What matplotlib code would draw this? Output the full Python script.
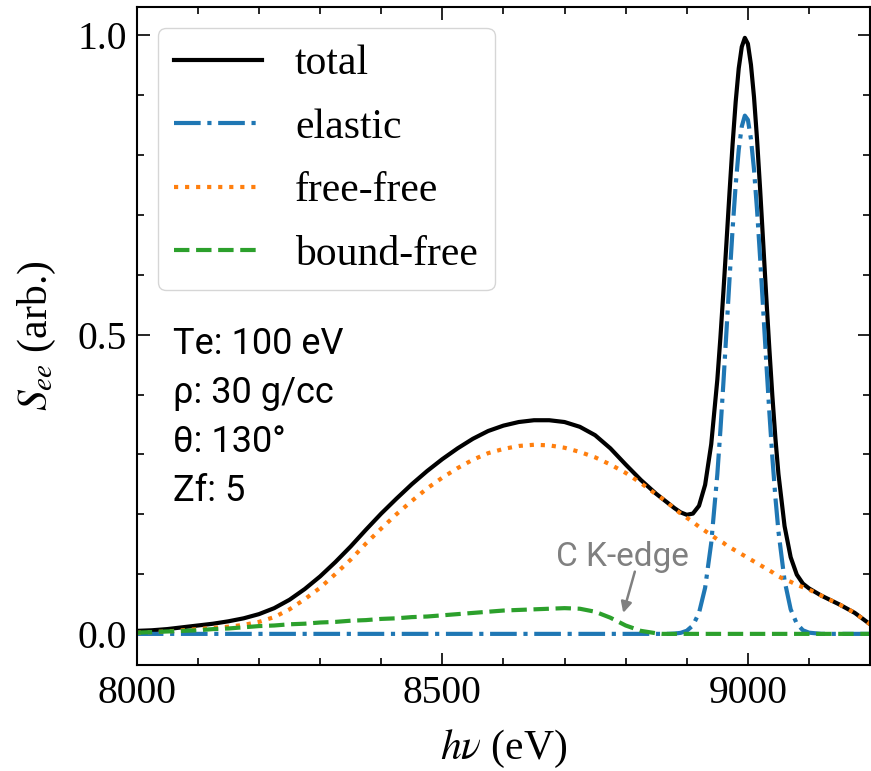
import matplotlib
matplotlib.use("Agg")
import matplotlib.pyplot as plt
from matplotlib.ticker import MultipleLocator, FormatStrFormatter

plt.rcParams['font.family'] = 'serif'
plt.rcParams['font.serif'] = ['Liberation Serif', 'DejaVu Serif']
plt.rcParams['mathtext.fontset'] = 'stix'

# photon energy grid (eV)
energy = [8000, 8025, 8050, 8075, 8100, 8125, 8150, 8175, 8200, 8225,
          8250, 8275, 8300, 8325, 8350, 8375, 8400, 8425, 8450, 8475,
          8500, 8525, 8550, 8575, 8600, 8625, 8650, 8675, 8700, 8725,
          8750, 8775, 8800, 8825, 8850, 8860, 8870, 8880, 8890, 8900,
          8910, 8920, 8930, 8940, 8950, 8955, 8960, 8965, 8970, 8975,
          8980, 8985, 8990, 8995, 9000, 9005, 9010, 9015, 9020, 9025,
          9030, 9035, 9040, 9045, 9050, 9060, 9070, 9080, 9090, 9100,
          9110, 9120, 9130, 9140, 9150, 9175, 9200]

total = [0.005, 0.006, 0.008, 0.011, 0.014, 0.017, 0.021, 0.026, 0.033, 0.043,
         0.057, 0.075, 0.096, 0.120, 0.146, 0.174, 0.201, 0.226, 0.250, 0.272,
         0.292, 0.310, 0.326, 0.339, 0.348, 0.354, 0.357, 0.357, 0.354, 0.346,
         0.332, 0.310, 0.283, 0.257, 0.234, 0.226, 0.218, 0.210, 0.203, 0.199,
         0.201, 0.214, 0.249, 0.317, 0.425, 0.495, 0.573, 0.655, 0.739, 0.819,
         0.889, 0.945, 0.981, 0.996, 0.986, 0.951, 0.897, 0.826, 0.743, 0.654,
         0.564, 0.478, 0.398, 0.327, 0.267, 0.180, 0.128, 0.099, 0.084, 0.076,
         0.070, 0.064, 0.059, 0.054, 0.049, 0.035, 0.016]

elastic = [0, 0, 0, 0, 0, 0, 0, 0, 0, 0,
           0, 0, 0, 0, 0, 0, 0, 0, 0, 0,
           0, 0, 0, 0, 0, 0, 0, 0, 0, 0,
           0, 0, 0, 0, 0, 0, 0, 0.0005, 0.0017, 0.0052,
           0.014, 0.035, 0.077, 0.152, 0.267, 0.340, 0.421, 0.507, 0.594, 0.677,
           0.750, 0.809, 0.848, 0.866, 0.859, 0.827, 0.776, 0.708, 0.628, 0.542,
           0.455, 0.372, 0.295, 0.228, 0.171, 0.089, 0.041, 0.017, 0.006, 0.002,
           0.001, 0, 0, 0, 0, 0, 0]

free_free = [0.002, 0.003, 0.004, 0.006, 0.008, 0.010, 0.012, 0.015, 0.020, 0.028,
             0.041, 0.058, 0.077, 0.100, 0.124, 0.151, 0.176, 0.200, 0.222, 0.243,
             0.261, 0.277, 0.291, 0.302, 0.309, 0.314, 0.316, 0.315, 0.311, 0.304,
             0.295, 0.283, 0.269, 0.252, 0.233, 0.226, 0.218, 0.209, 0.201, 0.194,
             0.187, 0.179, 0.172, 0.165, 0.158, 0.155, 0.152, 0.148, 0.145, 0.142,
             0.139, 0.136, 0.133, 0.130, 0.127, 0.124, 0.121, 0.118, 0.115, 0.112,
             0.109, 0.106, 0.103, 0.099, 0.096, 0.091, 0.087, 0.082, 0.078, 0.074,
             0.069, 0.064, 0.059, 0.054, 0.049, 0.035, 0.016]

bound_free = [0.002, 0.003, 0.004, 0.005, 0.006, 0.008, 0.009, 0.011, 0.013, 0.014,
              0.016, 0.017, 0.019, 0.020, 0.022, 0.023, 0.025, 0.026, 0.028, 0.029,
              0.031, 0.033, 0.035, 0.037, 0.039, 0.040, 0.041, 0.042, 0.043, 0.042,
              0.037, 0.027, 0.014, 0.005, 0.001, 0, 0, 0, 0, 0,
              0, 0, 0, 0, 0, 0, 0, 0, 0, 0,
              0, 0, 0, 0, 0, 0, 0, 0, 0, 0,
              0, 0, 0, 0, 0, 0, 0, 0, 0, 0,
              0, 0, 0, 0, 0, 0, 0]

params = ['Te: 100 eV', 'ρ: 30 g/cc', 'θ: 130°', 'Zf: 5']

fig = plt.figure(figsize=(8.71, 7.71), dpi=100)
ax = fig.add_axes([0.157, 0.1375, 0.842, 0.853])

lw = 3
ax.plot(energy, total, color='black', lw=lw, label='total')
ax.plot(energy, elastic, color='tab:blue', ls='-.', lw=lw, label='elastic')
ax.plot(energy, free_free, color='tab:orange', ls=':', lw=lw, label='free-free')
ax.plot(energy, bound_free, color='tab:green', ls='--', lw=lw, label='bound-free')

ax.set_xlim(8000, 9200)
ax.set_ylim(-0.052, 1.047)
ax.xaxis.set_major_locator(MultipleLocator(500))
ax.xaxis.set_minor_locator(MultipleLocator(100))
ax.yaxis.set_major_locator(MultipleLocator(0.5))
ax.yaxis.set_minor_locator(MultipleLocator(0.1))
ax.yaxis.set_major_formatter(FormatStrFormatter('%.1f'))
ax.tick_params(which='both', direction='in', top=True, right=True,
               labelsize=28.5, pad=7)
ax.tick_params(which='major', length=9, width=1.2)
ax.tick_params(which='minor', length=5, width=1.2)
for s in ax.spines.values():
    s.set_linewidth(1.5)

ax.set_xlabel(r'$h\nu$ (eV)', fontsize=30, labelpad=12)
ax.set_ylabel(r'$S_{ee}$ (arb.)', fontsize=30, labelpad=14)

ax.legend(loc='upper left', fontsize=30, handlelength=2.1,
          labelspacing=0.6, handletextpad=0.8)

for i, t in enumerate(params):
    ax.text(0.049, 0.473 - i * 0.0745, t, transform=ax.transAxes,
            fontsize=26, family='Roboto', va='baseline', ha='left')

ax.text(8794, 0.113, 'C K-edge', fontsize=24, family='Roboto',
        color='gray', ha='center', va='baseline')
ax.annotate('', xy=(8796, 0.035), xytext=(8815, 0.104),
            arrowprops=dict(arrowstyle='-|>', color='gray', lw=1.8,
                            mutation_scale=16, shrinkA=0, shrinkB=0))

fig.savefig('out.png', dpi=100)
